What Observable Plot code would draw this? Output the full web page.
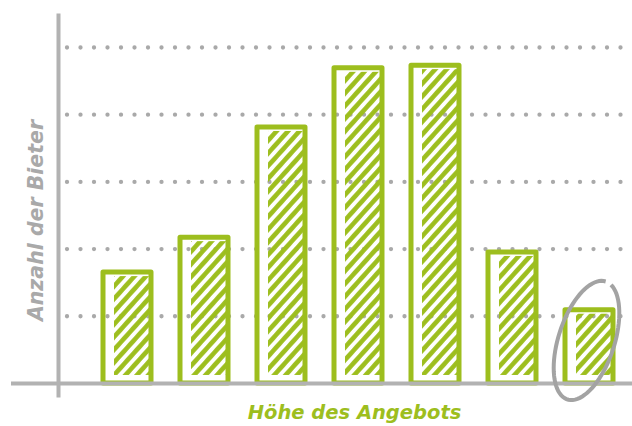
<!DOCTYPE html>
<html>
<head>
<meta charset="utf-8">
<script src="https://cdn.jsdelivr.net/npm/d3@7"></script>
<script src="https://cdn.jsdelivr.net/npm/@observablehq/plot@0.6"></script>
<style>
  html, body { margin: 0; padding: 0; background: #ffffff; }
  #chart svg { display: block; }
</style>
</head>
<body>
<div id="chart"></div>
<script>
// ---- data ----
const categories = ["1", "2", "3", "4", "5", "6", "7"];
const bidders = [1.65, 2.17, 3.81, 4.69, 4.73, 1.95, 1.09];
const gridValues = [1, 2, 3, 4, 5];
const circledCategory = "7";
const circledLevel = 0.64;
const xLabel = "Höhe des Angebots";
const yLabel = "Anzahl der Bieter";

const green = "#9dbe1e";
const gray = "#b2b2b2";
const textGray = "#a9a9a9";

const rows = categories.map((c, i) => ({category: c, value: bidders[i]}));

// hand-drawn "0" style ellipse symbol
const ellipseSymbol = {
  draw(context, size) {
    const rx = 28, ry = 62, rot = 18 * Math.PI / 180;
    const t0 = -1.35, t1 = t0 + 2 * Math.PI - 0.22;
    const n = 80;
    for (let k = 0; k <= n; ++k) {
      const t = t0 + (t1 - t0) * k / n;
      const ex = rx * Math.cos(t), ey = ry * Math.sin(t);
      const px = ex * Math.cos(rot) - ey * Math.sin(rot);
      const py = ex * Math.sin(rot) + ey * Math.cos(rot);
      if (k === 0) context.moveTo(px, py); else context.lineTo(px, py);
    }
  }
};

const labelFont = "'DejaVu Sans', 'Open Sans', sans-serif";

const chart = Plot.plot({
  width: 632,
  height: 426,
  marginTop: 15,
  marginBottom: 31,
  marginLeft: 58,
  marginRight: 0,
  x: {domain: categories, range: [94, 621], padding: 0.38, paddingOuter: 0.1, axis: null},
  y: {domain: [-0.179, 5.476], axis: null},
  marks: [
    // dotted grid lines
    Plot.ruleY(gridValues, {
      stroke: "#a9a9a9", strokeWidth: 4.3, strokeDasharray: "0 13.5",
      strokeLinecap: "round", insetLeft: 9
    }),
    // y axis line
    Plot.frame({anchor: "left", stroke: gray, strokeWidth: 4}),
    // hatched fill
    Plot.barY(rows, {
      x: "category", y: "value", fill: "url(#hatch)",
      insetLeft: 11, insetRight: 2, insetTop: 4, insetBottom: 8
    }),
    // bar outlines
    Plot.barY(rows, {
      x: "category", y: "value", fill: "none", stroke: green,
      strokeWidth: 5, strokeLinejoin: "round"
    }),
    // x axis line
    Plot.ruleY([0], {stroke: gray, strokeWidth: 4, insetLeft: -47}),
    // circled last bar
    Plot.dot([{category: circledCategory, value: circledLevel}], {
      x: "category", y: "value", symbol: ellipseSymbol, r: 10,
      stroke: "#a3a3a3", strokeWidth: 4, fill: "none", dx: -3
    }),
    // axis labels
    Plot.text([xLabel], {
      frameAnchor: "bottom", dy: 17, dx: 9, lineAnchor: "middle", textAnchor: "middle",
      fill: green, fontSize: 19.5, fontWeight: "bold", fontStyle: "italic",
      fontFamily: labelFont
    }),
    Plot.text([yLabel], {
      frameAnchor: "left", dx: -22, dy: 15, rotate: -90, lineAnchor: "middle", textAnchor: "middle",
      fill: textGray, fontSize: 20.5, fontWeight: "bold", fontStyle: "italic",
      fontFamily: labelFont
    })
  ]
});

const svg = chart.tagName.toLowerCase() === "svg" ? chart : chart.querySelector("svg");
const ns = "http://www.w3.org/2000/svg";
const defs = document.createElementNS(ns, "defs");
defs.innerHTML = `<pattern id="hatch" patternUnits="userSpaceOnUse" width="8.5" height="8.5" patternTransform="rotate(42)">
  <line x1="4.25" y1="-2" x2="4.25" y2="11" stroke="${green}" stroke-width="4.6"/>
</pattern>`;
svg.insertBefore(defs, svg.firstChild);
document.getElementById("chart").appendChild(chart);
</script>
</body>
</html>
